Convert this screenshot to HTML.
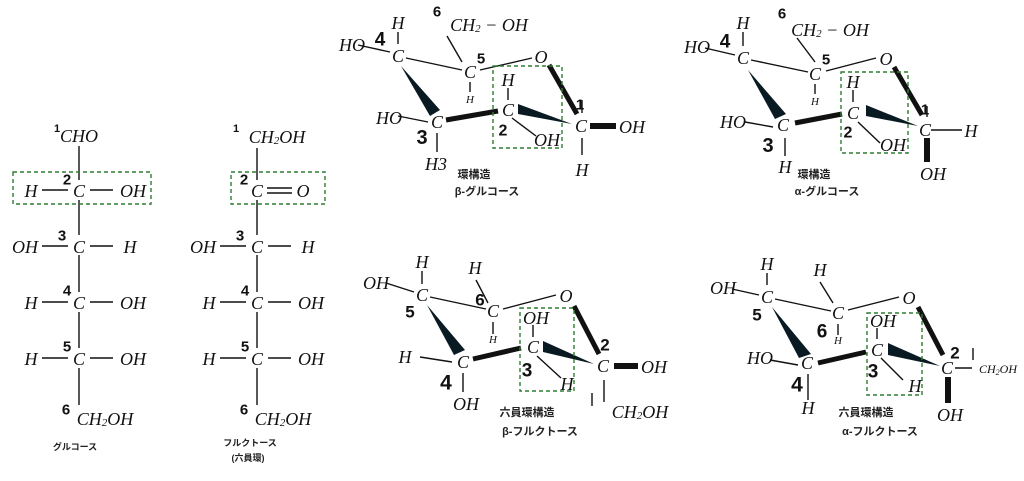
<!DOCTYPE html>
<html><head><meta charset="utf-8"><style>
html,body{margin:0;padding:0;background:#fff}
svg{display:block}
.m{font-family:"Liberation Serif",serif;font-style:italic;font-size:18px;fill:#111}
.s{font-size:11px}
.n{font-family:"Liberation Sans",sans-serif;font-weight:bold;font-size:15px;fill:#111}
.j{font-family:"Liberation Sans","Noto Sans CJK JP",sans-serif;font-weight:bold;font-size:11px;fill:#222}
line{stroke:#111;stroke-width:1.4}
.t{stroke-width:6}
.b{fill:none;stroke:#2e7d32;stroke-width:1.4;stroke-dasharray:4,3}
.w{fill:#0a1a22}
</style></head><body>
<svg width="1024" height="481" viewBox="0 0 1024 481" xmlns="http://www.w3.org/2000/svg" text-anchor="middle" dominant-baseline="central">
<!-- Glucose Fischer -->
<g>
<line x1="79" y1="146" x2="79" y2="180"/><line x1="79" y1="200" x2="79" y2="235"/><line x1="79" y1="255" x2="79" y2="292"/><line x1="79" y1="312" x2="79" y2="348"/><line x1="79" y1="368" x2="79" y2="405"/>
<line x1="42" y1="190" x2="68" y2="190"/><line x1="90" y1="190" x2="113" y2="190"/>
<line x1="42" y1="246" x2="68" y2="246"/><line x1="90" y1="246" x2="113" y2="246"/>
<line x1="42" y1="302" x2="68" y2="302"/><line x1="90" y1="302" x2="113" y2="302"/>
<line x1="42" y1="358" x2="68" y2="358"/><line x1="90" y1="358" x2="113" y2="358"/>
<text class="m" x="79" y="136">CHO</text><text class="n" x="57" y="129" style="font-size:11px">1</text>
<rect class="b" x="13" y="172" width="138" height="32"/>
<text class="m" x="31" y="191">H</text><text class="m" x="79" y="191">C</text><text class="m" x="133" y="191">OH</text><text class="n" x="67" y="180">2</text>
<text class="m" x="25" y="247">OH</text><text class="m" x="79" y="247">C</text><text class="m" x="130" y="247">H</text><text class="n" x="62" y="236">3</text>
<text class="m" x="31" y="303">H</text><text class="m" x="79" y="303">C</text><text class="m" x="133" y="303">OH</text><text class="n" x="67" y="291">4</text>
<text class="m" x="31" y="359">H</text><text class="m" x="79" y="359">C</text><text class="m" x="133" y="359">OH</text><text class="n" x="67" y="347">5</text>
<text class="m" x="105" y="419">CH<tspan class="s" dy="4">2</tspan><tspan dy="-4">OH</tspan></text><text class="n" x="66" y="410">6</text>
<text class="j" x="75" y="447" style="font-size:9px">グルコース</text>
</g>
<!-- Fructose Fischer -->
<g>
<line x1="257" y1="148" x2="257" y2="180"/><line x1="257" y1="200" x2="257" y2="235"/><line x1="257" y1="255" x2="257" y2="292"/><line x1="257" y1="312" x2="257" y2="348"/><line x1="257" y1="368" x2="257" y2="405"/>
<line x1="220" y1="246" x2="246" y2="246"/><line x1="268" y1="246" x2="291" y2="246"/>
<line x1="220" y1="302" x2="246" y2="302"/><line x1="268" y1="302" x2="291" y2="302"/>
<line x1="220" y1="358" x2="246" y2="358"/><line x1="268" y1="358" x2="291" y2="358"/>
<line x1="267" y1="188" x2="292" y2="188"/><line x1="267" y1="193" x2="292" y2="193"/>
<text class="m" x="277" y="137">CH<tspan class="s" dy="4">2</tspan><tspan dy="-4">OH</tspan></text><text class="n" x="236" y="129" style="font-size:11px">1</text>
<rect class="b" x="231" y="172" width="94" height="32"/>
<text class="m" x="257" y="191">C</text><text class="m" x="303" y="191">O</text><text class="n" x="244" y="180">2</text>
<text class="m" x="203" y="247">OH</text><text class="m" x="257" y="247">C</text><text class="m" x="308" y="247">H</text><text class="n" x="240" y="236">3</text>
<text class="m" x="209" y="303">H</text><text class="m" x="257" y="303">C</text><text class="m" x="311" y="303">OH</text><text class="n" x="245" y="291">4</text>
<text class="m" x="209" y="359">H</text><text class="m" x="257" y="359">C</text><text class="m" x="311" y="359">OH</text><text class="n" x="245" y="347">5</text>
<text class="m" x="283" y="419">CH<tspan class="s" dy="4">2</tspan><tspan dy="-4">OH</tspan></text><text class="n" x="244" y="410">6</text>
<text class="j" x="250" y="443" style="font-size:9px">フルクトース</text>
<text class="j" x="248" y="458" style="font-size:9px">(六員環)</text>
</g>
<!-- beta glucose -->
<g>
<line x1="398" y1="32" x2="398" y2="44"/><line x1="358" y1="45" x2="390" y2="52"/>
<line x1="406" y1="58" x2="462" y2="70"/><line x1="462" y1="62" x2="447" y2="36"/>
<line x1="480" y1="70" x2="532" y2="58"/><line x1="470" y1="82" x2="470" y2="92"/>
<line x1="508" y1="88" x2="508" y2="100"/><line x1="512" y1="118" x2="536" y2="136"/>
<line x1="398" y1="116" x2="428" y2="122"/><line x1="437" y1="133" x2="437" y2="152"/>
<line x1="582" y1="100" x2="582" y2="113"/><line x1="582" y1="138" x2="582" y2="155"/>
<polygon class="w" points="401,66 440,110 430,116"/>
<line class="t" x1="446" y1="120" x2="498" y2="111" style="stroke-width:5"/>
<polygon class="w" points="518,104 518,114 572,124"/>
<line class="t" x1="549" y1="65" x2="577" y2="114" style="stroke-width:5"/>
<line class="t" x1="590" y1="126" x2="616" y2="126"/>
<text class="m" x="398" y="23">H</text><text class="m" x="352" y="45">HO</text><text class="n" x="380" y="40" style="font-size:19px">4</text>
<text class="m" x="398" y="56">C</text>
<text class="n" x="437" y="12">6</text><text class="m" x="489" y="25">CH<tspan class="s" dy="4">2</tspan><tspan dy="-4"> − OH</tspan></text>
<text class="m" x="470" y="72">C</text><text class="n" x="481" y="59">5</text><text class="m s" x="470" y="100">H</text>
<text class="m" x="541" y="57">O</text>
<rect class="b" x="493" y="66" width="69" height="82"/>
<text class="m" x="508" y="80">H</text><text class="m" x="508" y="110">C</text><text class="n" x="503" y="131" style="font-size:16px">2</text><text class="m" x="547" y="140">OH</text>
<text class="m" x="389" y="118">HO</text><text class="m" x="437" y="122">C</text><text class="n" x="422" y="138" style="font-size:20px">3</text><text class="m" x="436" y="164">H3</text>
<text class="m" x="581" y="126">C</text><text class="m" x="632" y="127">OH</text><text class="m" x="582" y="170">H</text><text class="n" x="580" y="105">1</text>
<text class="j" x="474" y="175">環構造</text><text class="j" x="487" y="192">β-グルコース</text>
</g>
<!-- alpha glucose -->
<g>
<line x1="743" y1="32" x2="743" y2="46"/><line x1="705" y1="48" x2="735" y2="55"/>
<line x1="751" y1="60" x2="808" y2="72"/><line x1="815" y1="62" x2="797" y2="38"/>
<line x1="826" y1="71" x2="876" y2="58"/><line x1="815" y1="84" x2="815" y2="94"/>
<line x1="853" y1="90" x2="853" y2="102"/><line x1="858" y1="122" x2="880" y2="143"/>
<line x1="745" y1="122" x2="773" y2="127"/><line x1="785" y1="138" x2="785" y2="156"/>
<line x1="927" y1="106" x2="927" y2="117"/><line x1="931" y1="130" x2="962" y2="130"/>
<polygon class="w" points="748,70 786,114 775,119"/>
<line class="t" x1="795" y1="123" x2="842" y2="114" style="stroke-width:5"/>
<polygon class="w" points="866,105 866,116 918,126"/>
<line class="t" x1="894" y1="67" x2="922" y2="115" style="stroke-width:5"/>
<line class="t" x1="927" y1="138" x2="927" y2="162"/>
<text class="m" x="743" y="23">H</text><text class="m" x="697" y="47">HO</text><text class="n" x="725" y="42" style="font-size:19px">4</text>
<text class="m" x="743" y="58">C</text>
<text class="n" x="782" y="14">6</text><text class="m" x="830" y="30">CH<tspan class="s" dy="4">2</tspan><tspan dy="-4"> − OH</tspan></text>
<text class="m" x="815" y="74">C</text><text class="n" x="826" y="60">5</text><text class="m s" x="815" y="102">H</text>
<text class="m" x="886" y="59">O</text>
<rect class="b" x="841" y="72" width="67" height="81"/>
<text class="m" x="853" y="82">H</text><text class="m" x="853" y="113">C</text><text class="n" x="848" y="133" style="font-size:16px">2</text><text class="m" x="893" y="145">OH</text>
<text class="m" x="733" y="122">HO</text><text class="m" x="783" y="125">C</text><text class="n" x="768" y="146" style="font-size:20px">3</text><text class="m" x="785" y="167">H</text>
<text class="m" x="925" y="130">C</text><text class="m" x="971" y="131">H</text><text class="m" x="933" y="174">OH</text><text class="n" x="925" y="110">1</text>
<text class="j" x="814" y="175">環構造</text><text class="j" x="827" y="192">α-グルコース</text>
</g>
<!-- beta fructose -->
<g>
<line x1="422" y1="271" x2="422" y2="284"/><line x1="386" y1="283" x2="414" y2="292"/>
<line x1="430" y1="297" x2="486" y2="309"/><line x1="488" y1="303" x2="476" y2="280"/>
<line x1="503" y1="309" x2="556" y2="295"/><line x1="493" y1="322" x2="493" y2="334"/>
<line x1="533" y1="325" x2="533" y2="337"/><line x1="537" y1="356" x2="561" y2="378"/>
<line x1="420" y1="357" x2="452" y2="362"/><line x1="463" y1="373" x2="463" y2="392"/>
<line x1="604" y1="380" x2="604" y2="402"/><line x1="592" y1="393" x2="592" y2="406"/>
<polygon class="w" points="427,305 465,350 454,355"/>
<line class="t" x1="473" y1="359" x2="521" y2="348" style="stroke-width:5"/>
<polygon class="w" points="543,341 543,352 594,364"/>
<line class="t" x1="574" y1="306" x2="599" y2="354" style="stroke-width:5"/>
<line class="t" x1="614" y1="366" x2="638" y2="366"/>
<text class="m" x="422" y="262">H</text><text class="m" x="376" y="283">OH</text><text class="m" x="422" y="295">C</text><text class="n" x="410" y="312" style="font-size:17px">5</text>
<text class="m" x="475" y="268">H</text><text class="n" x="480" y="300" style="font-size:17px">6</text><text class="m" x="493" y="311">C</text><text class="m s" x="493" y="340">H</text>
<text class="m" x="566" y="296">O</text>
<rect class="b" x="520" y="308" width="54" height="83"/>
<text class="m" x="536" y="318">OH</text><text class="m" x="533" y="347">C</text><text class="n" x="527" y="371" style="font-size:19px">3</text><text class="m" x="567" y="384">H</text>
<text class="m" x="405" y="357">H</text><text class="m" x="463" y="362">C</text><text class="n" x="446" y="383" style="font-size:21px">4</text><text class="m" x="466" y="404">OH</text>
<text class="m" x="603" y="366">C</text><text class="n" x="605" y="345" style="font-size:17px">2</text><text class="m" x="654" y="367">OH</text>
<text class="m" x="640" y="412">CH<tspan class="s" dy="4">2</tspan><tspan dy="-4">OH</tspan></text>
<text class="j" x="527" y="413">六員環構造</text><text class="j" x="540" y="432">β-フルクトース</text>
</g>
<!-- alpha fructose -->
<g>
<line x1="767" y1="273" x2="767" y2="285"/><line x1="732" y1="289" x2="759" y2="295"/>
<line x1="775" y1="299" x2="831" y2="311"/><line x1="833" y1="303" x2="820" y2="282"/>
<line x1="848" y1="310" x2="899" y2="297"/><line x1="838" y1="324" x2="838" y2="335"/>
<line x1="877" y1="328" x2="877" y2="339"/><line x1="881" y1="358" x2="903" y2="380"/>
<line x1="770" y1="360" x2="798" y2="365"/><line x1="808" y1="374" x2="808" y2="400"/>
<line x1="955" y1="368" x2="972" y2="368"/><line x1="973" y1="348" x2="973" y2="360"/>
<polygon class="w" points="772,307 811,354 799,358"/>
<line class="t" x1="818" y1="363" x2="866" y2="352" style="stroke-width:5"/>
<polygon class="w" points="888,343 888,355 940,366"/>
<line class="t" x1="918" y1="307" x2="943" y2="355" style="stroke-width:5"/>
<line class="t" x1="948" y1="377" x2="948" y2="403"/>
<text class="m" x="767" y="264">H</text><text class="m" x="723" y="288">OH</text><text class="m" x="767" y="297">C</text><text class="n" x="757" y="315" style="font-size:17px">5</text>
<text class="m" x="820" y="270">H</text><text class="n" x="822" y="332" style="font-size:19px">6</text><text class="m" x="838" y="313">C</text><text class="m s" x="838" y="341">H</text>
<text class="m" x="909" y="298">O</text>
<rect class="b" x="867" y="313" width="55" height="82"/>
<text class="m" x="883" y="321">OH</text><text class="m" x="877" y="350">C</text><text class="n" x="873" y="372" style="font-size:19px">3</text><text class="m" x="915" y="386">H</text>
<text class="m" x="760" y="358">HO</text><text class="m" x="807" y="363">C</text><text class="n" x="797" y="385" style="font-size:21px">4</text><text class="m" x="808" y="408">H</text>
<text class="m" x="947" y="368">C</text><text class="n" x="955" y="353" style="font-size:17px">2</text><text class="m" x="950" y="415">OH</text>
<text class="m" x="998" y="369" style="font-size:12px">CH<tspan style="font-size:8px" dy="3">2</tspan><tspan dy="-3">OH</tspan></text>
<text class="j" x="866" y="413">六員環構造</text><text class="j" x="880" y="432">α-フルクトース</text>
</g>
</svg>
</body></html>
